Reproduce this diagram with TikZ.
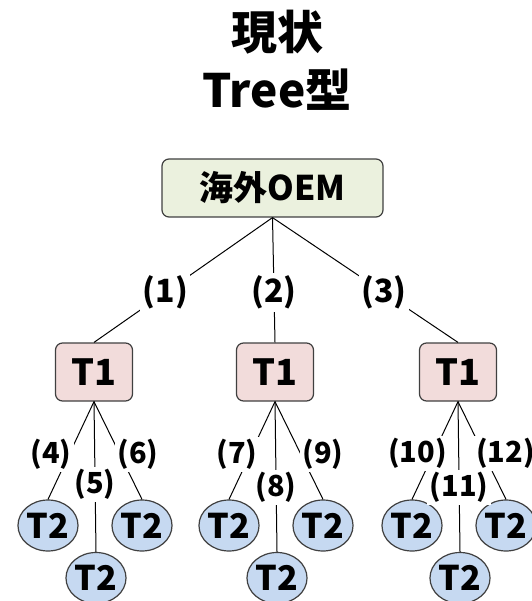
\documentclass[tikz,border=0pt]{standalone}
\usepackage{fontspec}
\setmainfont{Noto Sans CJK JP}
\usetikzlibrary{shapes.geometric}
\definecolor{oemfill}{HTML}{EBF1DE}
\definecolor{tonefill}{HTML}{F2DCDB}
\definecolor{ttwofill}{HTML}{C6D9F1}
\definecolor{edge}{HTML}{404040}

\begin{document}
\begin{tikzpicture}
  [x=1pt, y=-1pt,
   oem/.style={rectangle, rounded corners=7pt, draw=edge, fill=oemfill, line width=1.2pt,
     minimum width=221pt, minimum height=58pt, font=\fontsize{34}{40}\selectfont\bfseries},
   tier1/.style={rectangle, rounded corners=7pt, draw=edge, fill=tonefill, line width=1.2pt,
     minimum width=77pt, minimum height=58pt, font=\fontsize{36}{40}\selectfont\bfseries},
   tier2/.style={ellipse, draw=edge, fill=ttwofill, line width=1.2pt, inner sep=0pt,
     minimum width=60pt, minimum height=51pt, font=\fontsize{34}{40}\selectfont\bfseries},
   link/.style={line width=1pt},
   numbig/.style={fill=white, inner sep=2.5pt, font=\fontsize{32}{36}\selectfont\bfseries},
   num/.style={fill=white, inner sep=2.5pt, font=\fontsize{29}{32}\selectfont\bfseries}]
  \useasboundingbox (0,0) rectangle (531,601);
  \node (title) at (277,60) [align=center, font=\fontsize{46}{58}\selectfont\bfseries] {現状\\Tree型};
  \node (oem) at (272.5,188) [oem] {海外OEM};
  \foreach \x/\g in {94/a, 275/b, 458/c}{
    \node (t1\g) at (\x, 372) [tier1] {T1};
    \node (t2\g1) at (\x-46, 525.5) [tier2] {T2};
    \node (t2\g2) at (\x+2, 578) [tier2] {T2};
    \node (t2\g3) at (\x+48, 525.5) [tier2] {T2};
  }
  \draw [link] (oem.south) to node [numbig, pos=0.6] {(1)} (t1a.north);
  \draw [link] (oem.south) to node [numbig, pos=0.6] {(2)} (t1b.north);
  \draw [link] (oem.south) to node [numbig, pos=0.6] {(3)} (t1c.north);
  % first supplier
  \draw [link] (t1a.south) to node [num, pos=0.54, xshift=-18] {(4)} (t2a1.north);
  \draw [link] (t1a.south) to node [num, pos=0.55] {(5)} (t2a2.north);
  \draw [link] (t1a.south) to node [num, pos=0.54, xshift=18] {(6)} (t2a3.north);
  % second supplier
  \draw [link] (t1b.south) to node [num, pos=0.54, xshift=-13] {(7)} (t2b1.north);
  \draw [link] (t1b.south) to node [num, pos=0.57] {(8)} (t2b2.north);
  \draw [link] (t1b.south) to node [num, pos=0.54, xshift=22] {(9)} (t2b3.north);
  % third supplier
  \draw [link] (t1c.south) to node [num, pos=0.53, xshift=-16] {(10)} (t2c1.north);
  \draw [link] (t1c.south) to node [num, pos=0.57] {(11)} (t2c2.north);
  \draw [link] (t1c.south) to node [num, pos=0.53, xshift=22] {(12)} (t2c3.north);
\end{tikzpicture}
\end{document}
